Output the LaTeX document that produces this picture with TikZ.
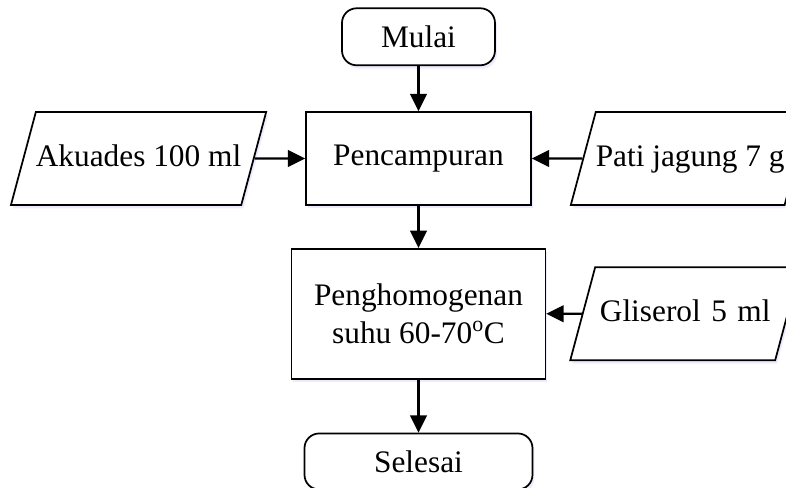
\documentclass[tikz,border=0pt]{standalone}
\usepackage{fontspec}
\setmainfont{Liberation Serif}
\usetikzlibrary{arrows.meta,positioning,shapes.geometric,shadows}
\tikzset{
	box/.style={draw, line width=1.3pt, align=center, inner sep=0pt, fill=white},
	arrow/.style={-{Triangle[length=13pt,width=12.5pt]}, line width=1.8pt},
	glow/.style={drop shadow={fill=blue!12, opacity=0.6, shadow xshift=1.5pt, shadow yshift=-2.5pt}}
}

\begin{document}
\begin{tikzpicture}[
			font=\fontsize{23.5pt}{29pt}\selectfont,
			terminal/.style={box, glow, rounded corners=11pt},
			process/.style={box, glow},
			datain/.style={box, glow, trapezium, trapezium left angle=75,
				trapezium right angle=105, text height=17pt, text depth=5pt,
				inner xsep=0pt, inner ysep=23.875pt},
			]
			
			\useasboundingbox (-313.875pt,-246.375pt) rectangle (275.625pt,118.875pt);
			
			%% -- Main column
			\node[process, minimum width=168.75pt, minimum height=69.75pt] (campur)
			{Pencampuran};
			
			\node[terminal, minimum width=114.75pt, minimum height=42.75pt,
			above=33.75pt of campur] (mulai) {Mulai};
			
			\node[process, minimum width=190.5pt, minimum height=97.5pt,
			below=31.5pt of campur] (homogen)
			{Penghomogenan\\suhu 60-70\textsuperscript{o}C};
			
			\node[terminal, minimum width=171pt, minimum height=42pt,
			below=39.75pt of homogen] (selesai) {Selesai};
			
			%% -- Inputs
			\node[datain, left=37.9pt of campur] (akuades) {Akuades 100 ml};
			\node[datain, right=37.9pt of campur] (pati) {Pati jagung 7 g};
			\node[datain, text width=135pt, right=26.6pt of homogen] (gliserol)
			{Gliserol 5 ml};
			
			%% -- Flow
			\draw[arrow] (mulai) -- (campur);
			\draw[arrow] (akuades) -- (campur);
			\draw[arrow] (pati) -- (campur);
			\draw[arrow] (campur) -- (homogen);
			\draw[arrow] (gliserol) -- (homogen);
			\draw[arrow] (homogen) -- (selesai);
			
		\end{tikzpicture}
\end{document}
